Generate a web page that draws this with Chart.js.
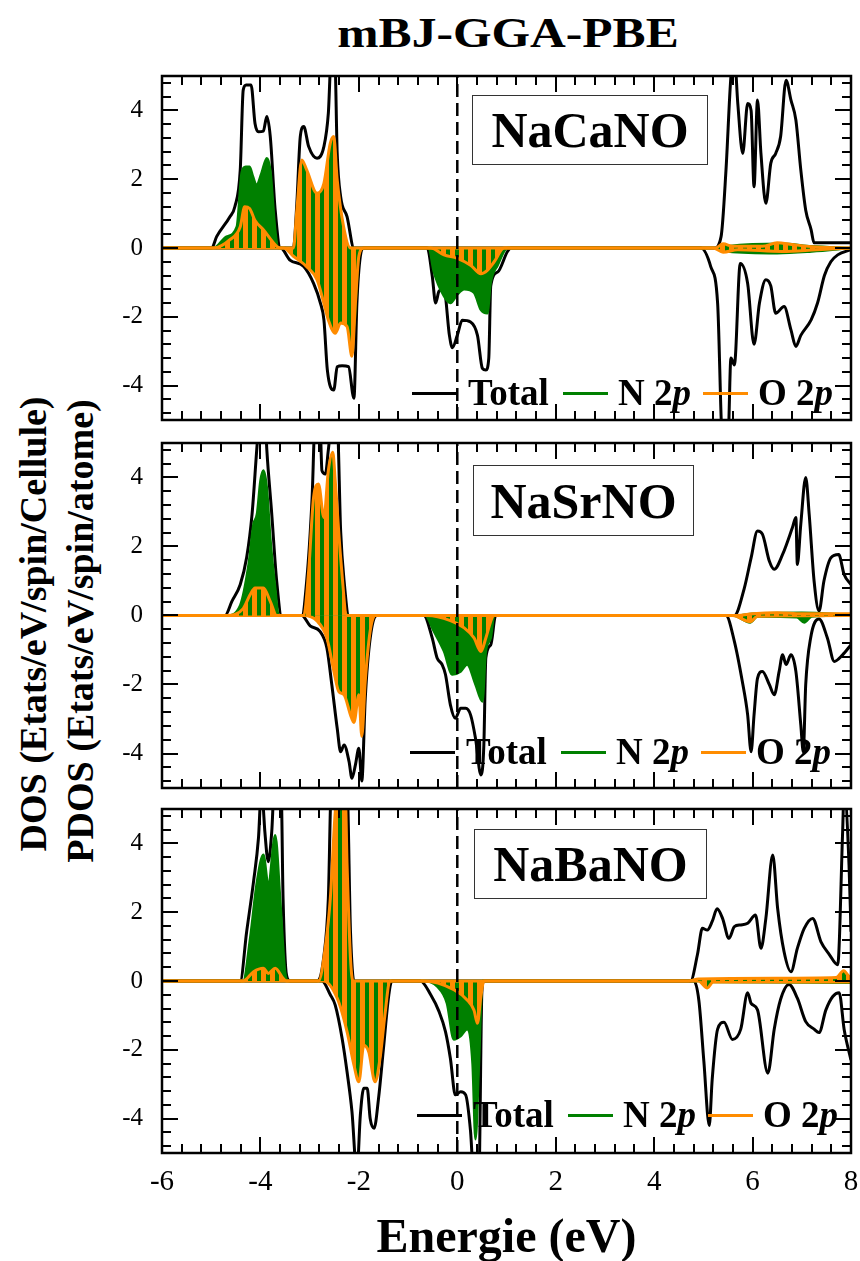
<!DOCTYPE html>
<html>
<head>
<meta charset="utf-8">
<script src="https://cdn.jsdelivr.net/npm/chart.js@4.4.0/dist/chart.umd.min.js"></script>
<style>
  body { margin: 0; background: #fff; }
  #page { position: relative; width: 860px; height: 1261px; font-family: 'Liberation Serif', 'Times New Roman', serif; color: #000; overflow: hidden; }
  .panel { position: absolute; left: 0; }
  .panel canvas { display: block; }
  .txt { position: absolute; white-space: nowrap; line-height: 1; font-weight: bold; }
  #title { left: 0; width: 1016px; top: 12px; font-size: 42px; text-align: center; transform: scaleX(1.18); transform-origin: 508px 0; }
  #xlab { left: 162px; width: 689px; top: 1212px; font-size: 48px; text-align: center; }
  .ylab { font-size: 38px; transform: translate(-50%, -50%) rotate(-90deg); }
  .tag { position: absolute; border: 1.5px solid #333; display: flex; align-items: center; justify-content: center; font-weight: bold; font-size: 50px; line-height: 1; box-sizing: border-box; }
  .key { position: absolute; height: 3px; width: 45px; }
  .ltxt { position: absolute; font-weight: bold; font-size: 37px; line-height: 1; white-space: nowrap; }
</style>
</head>
<body>
<div id="page">
  <div id="title" class="txt">mBJ-GGA-PBE</div>
  <div class="txt ylab" style="left:33px; top:624px;">DOS (Etats/eV/spin/Cellule)</div>
  <div class="txt ylab" style="left:80px; top:631px;">PDOS (Etats/eV/spin/atome)</div>
  <div class="panel" style="top:70px;"><canvas id="c0" width="860" height="356"></canvas></div>
  <div class="panel" style="top:437px;"><canvas id="c1" width="860" height="357"></canvas></div>
  <div class="panel" style="top:803px;"><canvas id="c2" width="860" height="410"></canvas></div>
  <div class="tag" style="left:472px; top:95px; width:236px; height:70px;">NaCaNO</div>
  <div class="tag" style="left:473px; top:465px; width:221px; height:71px;">NaSrNO</div>
  <div class="tag" style="left:474px; top:829px; width:233px; height:70px;">NaBaNO</div>
  <div id="xlab" class="txt">Energie (eV)</div>
</div>
<script>
// energy axis and ticks
const xTicks = [-6, -4, -2, 0, 2, 4, 6, 8];
const yTicks = [-4, -2, 0, 2, 4];
const legendLabels = ['Total', 'N 2<i>p</i>', 'O 2<i>p</i>'];
const compounds = ['NaCaNO', 'NaSrNO', 'NaBaNO'];

// NaCaNO  [E (eV), DOS]
const caTotUp = [[-6,0],[-4.99,0],[-4.89,0.33],[-4.62,0.91],[-4.52,1.2],[-4.41,2.27],[-4.35,4.59],[-4.29,4.74],[-4.19,4.74],[-4.11,3.62],[-4.04,3.38],[-3.94,3.4],[-3.87,3.82],[-3.8,3.24],[-3.7,1.1],[-3.59,0],[-3.33,0],[-3.26,1.3],[-3.19,3.24],[-3.12,3.53],[-3.02,2.95],[-2.85,2.61],[-2.71,2.95],[-2.62,3.92],[-2.56,5.6],[-2.49,5.6],[-2.44,2.75],[-2.37,1.49],[-2.24,0.91],[-2.1,0],[5.22,0],[5.36,0.33],[5.46,2.27],[5.56,4.98],[5.63,5.6],[5.7,4.2],[5.8,2.75],[5.9,4.2],[5.97,4.0],[6.03,1.78],[6.1,4.3],[6.17,2.75],[6.27,1.3],[6.37,2.46],[6.47,2.75],[6.57,3.24],[6.68,4.88],[6.78,4.3],[6.88,3.72],[6.98,2.27],[7.08,1.1],[7.19,0.53],[7.25,0.15],[8,0.15]];
const caTotDn = [[-6,0],[-3.59,0],[-3.4,-0.35],[-3.12,-0.54],[-2.92,-1.03],[-2.78,-1.61],[-2.71,-2.09],[-2.64,-3.55],[-2.51,-4.13],[-2.44,-3.45],[-2.34,-3.42],[-2.21,-3.45],[-2.1,-4.37],[-2.04,-1.61],[-1.97,-0.24],[-1.9,0],[-0.61,0],[-0.51,-0.8],[-0.44,-1.6],[-0.37,-1.25],[-0.27,-1.2],[-0.16,-2.54],[-0.1,-2.9],[0,-2.54],[0.1,-2.1],[0.27,-2.15],[0.41,-2.54],[0.51,-3.5],[0.58,-3.55],[0.64,-3.2],[0.68,-1.1],[0.82,-0.7],[1.02,-0.1],[1.09,0],[4.95,0],[5.15,-0.54],[5.29,-1.61],[5.39,-5.6],[5.5,-5.6],[5.56,-3.2],[5.63,-3.4],[5.75,-0.45],[5.9,-1.03],[6.03,-2.8],[6.14,-1.6],[6.27,-0.92],[6.37,-1.1],[6.47,-1.9],[6.64,-1.7],[6.78,-2.38],[6.88,-2.86],[6.98,-2.54],[7.19,-2.09],[7.32,-1.6],[7.46,-0.8],[7.59,-0.4],[7.73,-0.2],[8,-0.05]];
const caNUp = [[-6,0],[-4.95,0],[-4.69,0.33],[-4.48,0.62],[-4.38,2.2],[-4.3,2.36],[-4.22,2.36],[-4.15,2.07],[-4.08,1.83],[-3.98,2.17],[-3.87,2.61],[-3.8,2.27],[-3.7,0.53],[-3.63,0],[-3.3,0],[-3.2,0.4],[-2.9,0.5],[-2.6,0.6],[-2.4,0.3],[-2.2,0],[5.3,0],[5.5,0.05],[6.6,0.12],[7.2,0.05],[8,0]];
const caNDn = [[-6,0],[-3.5,0],[-3.1,-0.3],[-2.8,-0.7],[-2.6,-1.6],[-2.4,-1.9],[-2.2,-2.2],[-2.1,-2.3],[-2.05,-1.2],[-2.0,-0.2],[-1.9,0],[-0.58,0],[-0.48,-0.67],[-0.27,-1.4],[-0.14,-1.6],[0,-1.35],[0.14,-1.2],[0.34,-1.3],[0.48,-1.8],[0.61,-1.9],[0.68,-1.0],[0.82,-0.5],[1.02,0],[5.2,0],[5.5,-0.1],[6.5,-0.15],[7.2,-0.1],[8,0]];
const caOUp = [[-6,0],[-4.95,0],[-4.62,0.24],[-4.41,0.62],[-4.32,1.2],[-4.22,1.15],[-4.11,0.8],[-3.94,0.53],[-3.67,0.05],[-3.6,0],[-3.33,0],[-3.26,1.1],[-3.16,2.56],[-3.06,2.27],[-2.85,1.59],[-2.71,1.88],[-2.58,3.05],[-2.51,3.24],[-2.44,1.98],[-2.31,0.62],[-2.17,0],[5.25,0],[5.4,0.12],[5.6,0.05],[6.2,0.05],[6.5,0.15],[6.8,0.1],[7.3,0.03],[8,0]];
const caODn = [[-6,0],[-3.53,0],[-3.33,-0.24],[-3.06,-0.54],[-2.85,-0.92],[-2.71,-1.61],[-2.62,-2.09],[-2.48,-2.48],[-2.37,-2.18],[-2.24,-2.28],[-2.14,-3.15],[-2.07,-1.6],[-2.0,-0.24],[-1.9,0],[-0.54,0],[-0.27,-0.2],[0,-0.3],[0.27,-0.5],[0.48,-0.75],[0.61,-0.65],[0.75,-0.4],[0.95,0],[5.2,0],[5.4,-0.12],[5.7,-0.05],[6.6,-0.1],[7.3,-0.05],[8,0]];

// NaSrNO
const srTotUp = [[-6,0],[-4.72,0],[-4.58,0.41],[-4.41,0.9],[-4.28,1.68],[-4.17,2.94],[-4.07,4.9],[-4.03,5.6],[-3.9,5.6],[-3.87,4.8],[-3.77,2.94],[-3.67,1.0],[-3.57,0],[-3.16,0],[-3.06,1.0],[-2.95,3.42],[-2.89,5.6],[-2.79,5.6],[-2.75,4.2],[-2.68,4.1],[-2.62,4.8],[-2.55,5.6],[-2.44,5.6],[-2.37,2.45],[-2.3,1.0],[-2.2,0],[5.63,0],[5.83,0.78],[5.97,1.67],[6.1,2.45],[6.2,2.36],[6.34,1.58],[6.44,1.34],[6.61,1.77],[6.81,2.55],[6.88,2.84],[6.91,1.48],[6.98,2.65],[7.08,4.0],[7.15,2.94],[7.25,1.0],[7.35,0.13],[7.45,1.0],[7.59,1.67],[7.75,1.77],[7.86,1.19],[8,0.9]];
const srTotDn = [[-6,0],[-3.16,0],[-2.99,-0.3],[-2.79,-0.46],[-2.65,-0.94],[-2.55,-2.0],[-2.44,-3.27],[-2.37,-3.95],[-2.3,-3.75],[-2.2,-4.23],[-2.14,-4.72],[-2.07,-4.33],[-2.0,-3.85],[-1.94,-4.8],[-1.87,-2.4],[-1.77,-0.66],[-1.63,0],[-0.68,0],[-0.51,-0.65],[-0.41,-1.23],[-0.31,-1.42],[-0.24,-1.71],[-0.14,-2.59],[-0.04,-2.98],[0.07,-2.69],[0.17,-2.69],[0.27,-2.88],[0.37,-3.56],[0.48,-4.62],[0.54,-3.75],[0.58,-1.23],[0.68,-0.85],[0.78,0],[5.46,0],[5.63,-0.75],[5.79,-1.9],[5.9,-2.88],[5.97,-3.95],[6.03,-2.88],[6.1,-1.82],[6.2,-1.62],[6.34,-2.0],[6.44,-2.3],[6.54,-1.62],[6.61,-1.14],[6.68,-1.42],[6.78,-1.14],[6.88,-1.62],[6.98,-3.17],[7.03,-3.95],[7.08,-2.0],[7.18,-0.65],[7.35,-0.1],[7.52,-0.65],[7.66,-1.33],[7.83,-1.14],[8,-0.85]];
const srNUp = [[-6,0],[-4.68,0],[-4.41,0.3],[-4.24,1.48],[-4.14,2.65],[-4.07,2.94],[-4.0,3.9],[-3.94,4.2],[-3.87,3.7],[-3.8,2.26],[-3.7,0.8],[-3.63,0],[-3.1,0],[-2.9,0.6],[-2.7,0.8],[-2.5,0.6],[-2.3,0.1],[-2.2,0],[5.7,0],[6.0,0.05],[7.0,0.08],[8,0.02]];
const srNDn = [[-6,0],[-3.1,0],[-2.8,-0.1],[-2.6,-0.5],[-2.45,-1.3],[-2.3,-2.0],[-2.15,-2.4],[-2.0,-2.0],[-1.94,-2.6],[-1.87,-1.5],[-1.77,-0.3],[-1.67,0],[-0.65,0],[-0.48,-0.45],[-0.27,-1.04],[-0.1,-1.71],[0.07,-1.62],[0.2,-1.42],[0.37,-2.0],[0.51,-2.49],[0.58,-1.04],[0.68,-0.65],[0.75,0],[5.6,0],[5.95,-0.2],[6.1,-0.03],[6.9,-0.05],[7.05,-0.2],[7.2,-0.03],[8,0]];
const srOUp = [[-6,0],[-4.68,0],[-4.35,0.2],[-4.21,0.6],[-4.11,0.8],[-3.94,0.8],[-3.8,0.41],[-3.67,0],[-3.12,0],[-3.02,1.29],[-2.92,3.42],[-2.82,3.81],[-2.71,2.84],[-2.62,4.2],[-2.53,4.73],[-2.48,3.9],[-2.37,1.68],[-2.24,0],[5.7,0],[6.0,0.05],[6.5,0.08],[7.0,0.05],[8,0.05]];
const srODn = [[-6,0],[-3.12,0],[-2.85,-0.16],[-2.65,-0.65],[-2.51,-1.6],[-2.41,-2.2],[-2.3,-2.3],[-2.17,-2.88],[-2.1,-3.1],[-2.0,-2.3],[-1.94,-3.5],[-1.87,-1.9],[-1.77,-0.45],[-1.67,0],[-0.61,0],[-0.14,-0.15],[0.14,-0.36],[0.34,-0.65],[0.48,-1.04],[0.58,-0.65],[0.71,-0.05],[0.75,0],[5.6,0],[5.95,-0.18],[6.1,-0.02],[8,0]];

// NaBaNO
const baTotUp = [[-6,0],[-4.41,0],[-4.28,1.43],[-4.14,2.89],[-4.04,4.15],[-3.98,5.6],[-3.94,5.0],[-3.91,4.34],[-3.84,3.47],[-3.77,4.34],[-3.72,5.6],[-3.58,5.6],[-3.54,2.4],[-3.47,0.17],[-3.4,0],[-2.85,0],[-2.71,0.73],[-2.62,2.4],[-2.56,5.6],[-2.24,5.6],[-2.17,1.43],[-2.1,0],[4.74,0],[4.88,0.77],[4.98,1.53],[5.08,1.48],[5.18,1.73],[5.28,2.1],[5.39,1.82],[5.52,1.24],[5.63,1.58],[5.76,1.63],[5.9,1.68],[6.06,1.92],[6.17,0.95],[6.27,1.82],[6.41,3.66],[6.51,2.1],[6.64,0.85],[6.78,0.27],[6.91,0.95],[7.05,1.53],[7.22,1.82],[7.39,1.14],[7.56,0.77],[7.73,0.47],[7.83,4.34],[7.86,5.6],[7.96,3.37],[8,1.43]];
const baTotDn = [[-6,0],[-2.75,0],[-2.58,-0.4],[-2.48,-0.7],[-2.34,-1.67],[-2.24,-2.64],[-2.14,-3.8],[-2.04,-5.6],[-1.97,-3.9],[-1.9,-3.12],[-1.83,-3.12],[-1.77,-4.0],[-1.69,-4.28],[-1.6,-3.41],[-1.5,-1.96],[-1.4,-0.5],[-1.33,0],[-0.75,0],[-0.54,-0.4],[-0.37,-0.89],[-0.24,-1.47],[-0.14,-2.25],[-0.04,-3.31],[0.07,-3.22],[0.17,-3.31],[0.27,-4.38],[0.33,-5.6],[0.44,-5.6],[0.5,-0.3],[0.54,0],[4.81,0],[4.91,-0.58],[5.01,-2.33],[5.12,-4.2],[5.18,-2.85],[5.29,-1.4],[5.42,-1.2],[5.59,-1.7],[5.76,-1.4],[5.9,-0.34],[5.97,-0.65],[6.1,-0.84],[6.31,-2.68],[6.44,-1.4],[6.57,-0.53],[6.74,-0.1],[6.91,-0.5],[7.08,-1.18],[7.25,-1.4],[7.35,-1.5],[7.49,-0.84],[7.63,-0.45],[7.76,-0.34],[7.86,-1.4],[8,-2.3]];
const baNUp = [[-6,0],[-4.35,0],[-4.21,1.23],[-4.07,2.89],[-3.94,3.67],[-3.84,2.8],[-3.7,4.24],[-3.6,2.4],[-3.5,0.27],[-3.43,0],[-2.8,0],[-2.6,0.5],[-2.4,1.0],[-2.25,0.5],[-2.15,0],[4.8,0],[5.1,0.03],[8,0.03]];
const baNDn = [[-6,0],[-2.7,0],[-2.44,-0.4],[-2.24,-1.2],[-2.1,-2.0],[-2.0,-2.4],[-1.9,-1.6],[-1.8,-1.7],[-1.67,-2.4],[-1.57,-1.8],[-1.47,-0.8],[-1.4,0],[-0.68,0],[-0.41,-0.16],[-0.21,-0.65],[-0.07,-1.7],[0.07,-1.6],[0.2,-1.4],[0.31,-2.4],[0.37,-4.6],[0.44,-2.4],[0.51,0],[4.9,0],[5.08,-0.15],[5.2,-0.03],[8,-0.05]];
const baOUp = [[-6,0],[-4.35,0],[-4.14,0.27],[-3.94,0.37],[-3.84,0.22],[-3.7,0.37],[-3.54,0.08],[-3.47,0],[-2.82,0],[-2.68,1.0],[-2.58,2.4],[-2.48,4.9],[-2.42,5.6],[-2.28,5.6],[-2.24,3.4],[-2.17,0.66],[-2.12,0],[4.7,0],[4.9,0.06],[6.5,0.08],[7.7,0.1],[7.85,0.3],[7.95,0.15],[8,0.1]];
const baODn = [[-6,0],[-2.72,0],[-2.44,-0.5],[-2.24,-1.47],[-2.1,-2.44],[-2.0,-2.93],[-1.9,-1.87],[-1.8,-2.06],[-1.67,-2.93],[-1.57,-2.25],[-1.47,-0.99],[-1.37,0],[-0.7,0],[-0.07,-0.25],[0.2,-0.55],[0.34,-0.85],[0.41,-1.23],[0.48,-0.45],[0.54,0],[4.9,0],[5.08,-0.2],[5.2,-0.03],[8,-0.03]];

const fermi = [[0,-5],[0,5]];

const GREEN = '#008000';
const ORANGE = '#ff8c00';
const FONT = "'Liberation Serif', 'Times New Roman', serif";

const panels = [
  { id: 'c0', tot: [caTotUp, caTotDn], n: [caNUp, caNDn], o: [caOUp, caODn], legendY: 393, dx: 0 },
  { id: 'c1', tot: [srTotUp, srTotDn], n: [srNUp, srNDn], o: [srOUp, srODn], legendY: 752, dx: -2 },
  { id: 'c2', tot: [baTotUp, baTotDn], n: [baNUp, baNDn], o: [baOUp, baODn], legendY: 1115, dx: 5 }
];

function pts(a) {
  return a.map(p => ({ x: p[0], y: p[1] }));
}

// orange vertical stripes over green, used under the O 2p curve
function stripes(ctx) {
  const c = document.createElement('canvas');
  c.width = 9; c.height = 4;
  const g = c.getContext('2d');
  g.fillStyle = GREEN; g.fillRect(0, 0, 9, 4);
  g.fillStyle = ORANGE; g.fillRect(0, 0, 5, 4);
  return ctx.createPattern(c, 'repeat');
}

function curve(data, color, width, order, fill) {
  return {
    data: pts(data),
    borderColor: color,
    borderWidth: width,
    backgroundColor: fill || 'transparent',
    fill: fill ? 'origin' : false,
    order: order,
    pointRadius: 0,
    cubicInterpolationMode: 'monotone'
  };
}

// frame with inward ticks on all four sides
const framePlugin = {
  id: 'frame',
  afterDatasetsDraw(chart) {
    const { ctx, chartArea: a, scales: { x, y } } = chart;
    ctx.save();
    ctx.strokeStyle = '#000';
    ctx.lineWidth = 2;
    ctx.beginPath();
    for (let k = 0; k <= 35; k++) {
      const px = Math.round(x.getPixelForValue(-6 + 0.4 * k));
      const len = k % 5 === 0 ? 16 : 9;
      ctx.moveTo(px, a.bottom); ctx.lineTo(px, a.bottom - len);
      ctx.moveTo(px, a.top); ctx.lineTo(px, a.top + len);
    }
    for (let k = 0; k <= 24; k++) {
      const py = Math.round(y.getPixelForValue(-4.8 + 0.4 * k));
      const len = (k - 2) % 5 === 0 ? 16 : 9;
      ctx.moveTo(a.left, py); ctx.lineTo(a.left + len, py);
      ctx.moveTo(a.right, py); ctx.lineTo(a.right - len, py);
    }
    ctx.stroke();
    ctx.lineWidth = 2.5;
    ctx.strokeRect(a.left, a.top, a.right - a.left, a.bottom - a.top);
    ctx.restore();
  }
};

function makeChart(p, last) {
  const canvas = document.getElementById(p.id);
  const ctx = canvas.getContext('2d');
  const pat = stripes(ctx);
  const datasets = [
    curve(p.tot[0], '#000', 3, 3),
    curve(p.tot[1], '#000', 3, 3),
    curve(p.n[0], GREEN, 2.5, 2, GREEN),
    curve(p.n[1], GREEN, 2.5, 2, GREEN),
    curve(p.o[0], ORANGE, 3, 1, pat),
    curve(p.o[1], ORANGE, 3, 1, pat),
    { data: pts(fermi), borderColor: '#000', borderWidth: 2.5, borderDash: [13, 6], pointRadius: 0, fill: false, order: 0, tension: 0 }
  ];
  return new Chart(ctx, {
    type: 'line',
    data: { datasets: datasets },
    options: {
      responsive: false,
      animation: false,
      events: [],
      layout: { padding: { top: 6, right: 9, bottom: last ? 0 : 6, left: 0 } },
      plugins: { legend: { display: false }, tooltip: { enabled: false } },
      scales: {
        x: {
          type: 'linear', min: -6, max: 8, display: last,
          afterBuildTicks: s => { s.ticks = xTicks.map(v => ({ value: v })); },
          afterFit: s => { s.height = last ? 60 : 0; s.paddingLeft = 0; s.paddingRight = 0; s.paddingTop = 0; s.paddingBottom = 0; },
          grid: { display: false, drawTicks: false },
          border: { display: false },
          ticks: { padding: 12, maxRotation: 0, color: '#000', font: { family: FONT, size: 29 } }
        },
        y: {
          type: 'linear', min: -5, max: 5,
          afterBuildTicks: s => { s.ticks = yTicks.map(v => ({ value: v })); },
          afterFit: s => { s.width = 162; s.paddingTop = 0; s.paddingBottom = 0; s.paddingLeft = 0; s.paddingRight = 0; },
          grid: { display: false, drawTicks: false },
          border: { display: false },
          ticks: { padding: 19, color: '#000', font: { family: FONT, size: 25 } }
        }
      }
    },
    plugins: [framePlugin]
  });
}

function addLegend(p) {
  const page = document.getElementById('page');
  const keys = [['#000', 412], [GREEN, 563], [ORANGE, 703]];
  const texts = [468, 618, 758];
  keys.forEach((k, i) => {
    const line = document.createElement('div');
    line.className = 'key';
    line.style.background = k[0];
    line.style.left = (k[1] + p.dx) + 'px';
    line.style.top = (p.legendY - 1.5) + 'px';
    page.appendChild(line);
    const t = document.createElement('div');
    t.className = 'ltxt';
    t.innerHTML = legendLabels[i];
    t.style.left = (texts[i] + p.dx) + 'px';
    t.style.top = (p.legendY - 19) + 'px';
    page.appendChild(t);
  });
}

panels.forEach((p, i) => {
  makeChart(p, i === panels.length - 1);
  addLegend(p);
});
</script>
</body>
</html>
